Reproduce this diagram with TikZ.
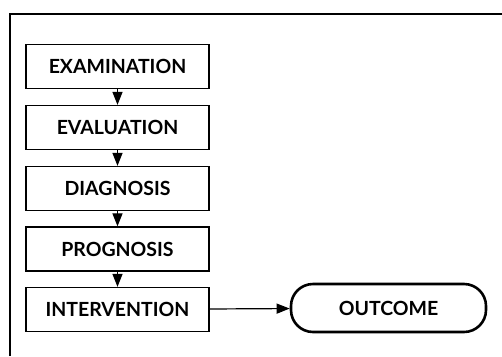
\documentclass[tikz,border=0pt]{standalone}
\usepackage{fontspec}
\setmainfont{Lato}
\usetikzlibrary{positioning,arrows.meta}

\begin{document}
\begin{tikzpicture}[x=1pt,y=-1pt]
\tikzset{S/.style={rectangle,draw=black,line width=1.3pt,minimum width=183pt,minimum height=44pt,inner sep=0pt,font=\bfseries\fontsize{19.5}{19.5}\selectfont}}
\tikzset{O/.style={rectangle,draw=black,line width=2.6pt,rounded corners=22pt,minimum width=195pt,minimum height=48pt,inner sep=0pt,font=\bfseries\fontsize{19.5}{19.5}\selectfont}}
\tikzset{A/.style={-{Triangle[width=10pt,length=13pt]},line width=1.2pt}}

  \useasboundingbox (0,0) rectangle (502,356);
  \draw[line width=1.5pt] (10,356) -- (10,14) -- (502,14);

  \node[S] (exam)   at (117.5,66.5)  {EXAMINATION};
  \node[S] (eval)   at (117.5,127.5) {EVALUATION};
  \node[S] (diag)   at (117.5,188.5) {DIAGNOSIS};
  \node[S] (prog)   at (117.5,249)   {PROGNOSIS};
  \node[S] (interv) at (117.5,309.5) {INTERVENTION};

  \node[O] (outcome) at (388.5,308) {OUTCOME};

  \draw[A] (exam) -- (eval);
  \draw[A] (eval) -- (diag);
  \draw[A] (diag) -- (prog);
  \draw[A] (prog) -- (interv);
  \draw[A] (interv) -- (outcome);
\end{tikzpicture}
\end{document}
